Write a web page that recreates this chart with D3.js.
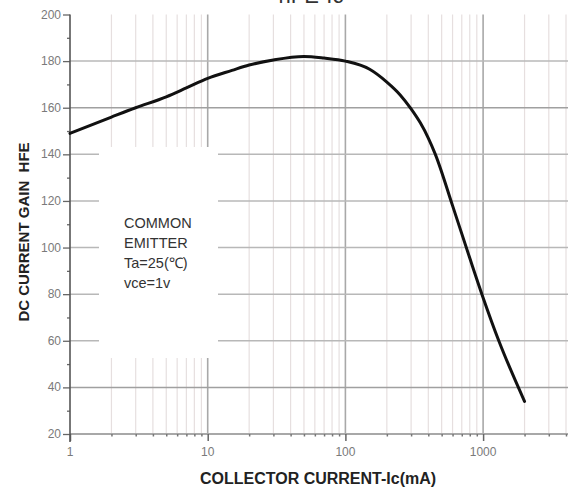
<!DOCTYPE html>
<html>
<head>
<meta charset="utf-8">
<script src="https://cdn.jsdelivr.net/npm/d3@7"></script>
<style>
  html, body { margin: 0; padding: 0; background: #fff; }
  svg { display: block; }
</style>
</head>
<body>
<svg id="chart" width="568" height="490"></svg>
<script>
// ---- data ----
const icValues  = [1, 2, 3, 5, 7, 10, 15, 20, 30, 50, 70, 100, 150, 200, 250, 300, 350, 400, 450, 600, 800, 1000, 1300, 2000];
const hfeValues = [149, 156, 160, 164.7, 168.5, 172.6, 176, 178.3, 180.5, 182, 181.3, 180, 176.5, 171, 165.5, 159.5, 153.5, 147, 140, 118, 95.5, 78.5, 60, 34];
const xTickLabels = [1, 10, 100, 1000];
const yTickLabels = [20, 40, 60, 80, 100, 120, 140, 160, 180, 200];
const noteLines = ["COMMON", "EMITTER", "Ta=25(\u2103)", "vce=1v"];
const titleText = "hFE-Ic";
const xTitle = "COLLECTOR CURRENT-Ic(mA)";
const yTitle = "DC CURRENT GAIN  HFE";

(function () {
const svg = d3.select("#chart");
const mLeft = 70, mTop = 14.5, mBottom = 434;
const decade = 137.7;
const font = "Liberation Sans, Arial, sans-serif";

const x = d3.scaleLog().domain([1, 4500]).range([mLeft, mLeft + decade * Math.log10(4500)]);
const y = d3.scaleLinear().domain([20, 200]).range([mBottom, mTop]);

// minor positions
const allX = [];
for (let d = 1; d <= 1000; d *= 10) for (let k = 1; k <= 9; k++) { const v = d * k; if (v <= 4500) allX.push(v); }

// vertical grid
const g = svg.append("g");
g.selectAll("line.vg").data(allX.filter(v => v > 1)).join("line")
  .attr("x1", d => x(d)).attr("x2", d => x(d))
  .attr("y1", mTop).attr("y2", mBottom)
  .attr("stroke", d => xTickLabels.includes(d) ? "#a8a8a8" : "#e6dfdf")
  .attr("stroke-width", d => xTickLabels.includes(d) ? 1.6 : 1.2);

// horizontal grid
g.selectAll("line.hg").data(yTickLabels.filter(v => v > 20 && v < 200)).join("line")
  .attr("x1", mLeft).attr("x2", 568)
  .attr("y1", d => y(d)).attr("y2", d => y(d))
  .attr("stroke", d => (d === 160 || d === 40) ? "#a0a0a0" : "#b8b8b8")
  .attr("stroke-width", 1.5);

// white note box
svg.append("rect").attr("x", 99).attr("y", 147).attr("width", 119).attr("height", 211).attr("fill", "#fff");

// x axis (bottom line)
svg.append("line").attr("x1", mLeft).attr("x2", 568).attr("y1", mBottom).attr("y2", mBottom)
  .attr("stroke", "#a8a8a8").attr("stroke-width", 2);
const xAxis = d3.axisBottom(x).tickValues(allX).tickSize(0).tickFormat("");
const xa = svg.append("g").attr("transform", `translate(0,${mBottom})`).call(xAxis);
xa.select(".domain").remove();
xa.selectAll(".tick").append("line")
  .attr("y1", 0).attr("y2", d => xTickLabels.includes(d) ? 7 : 2.5)
  .attr("stroke", d => xTickLabels.includes(d) ? "#666" : "#777").attr("stroke-width", 1.5);
svg.selectAll("text.xl").data(xTickLabels).join("text")
  .attr("x", d => x(d)).attr("y", 455.5)
  .attr("text-anchor", "middle")
  .attr("font-family", font).attr("font-size", 12)
  .attr("fill", "#7a7a7a").text(d => d);

// y axis
const yAxis = d3.axisLeft(y).tickValues(d3.range(20, 201, 10)).tickSize(0).tickFormat("");
const ya = svg.append("g").attr("transform", `translate(${mLeft},0)`).call(yAxis);
ya.select(".domain").remove();
ya.selectAll(".tick").append("line")
  .attr("x1", 0).attr("x2", d => d % 20 === 0 ? -7 : -3)
  .attr("stroke", "#666").attr("stroke-width", 1.3);
svg.append("line").attr("x1", mLeft).attr("x2", mLeft).attr("y1", mTop).attr("y2", mBottom + 8)
  .attr("stroke", "#555").attr("stroke-width", 1.6);
svg.selectAll("text.yl").data(yTickLabels).join("text")
  .attr("x", 61).attr("y", d => y(d) + 4)
  .attr("text-anchor", "end")
  .attr("font-family", font).attr("font-size", 12)
  .attr("fill", "#7a7a7a").text(d => d);

// curve
const line = d3.line().x(d => x(d[0])).y(d => y(d[1])).curve(d3.curveMonotoneX);
svg.append("path").datum(icValues.map((v, i) => [v, hfeValues[i]]))
  .attr("d", line).attr("fill", "none").attr("stroke", "#111").attr("stroke-width", 3)
  .attr("stroke-linejoin", "round").attr("stroke-linecap", "round");

// note text
svg.selectAll("text.note").data(noteLines).join("text")
  .attr("x", 124).attr("y", (d, i) => 228 + i * 20)
  .attr("font-family", font).attr("font-size", 14.5)
  .attr("fill", "#333").text(d => d);

// titles
svg.append("text").attr("x", 318).attr("y", 484).attr("text-anchor", "middle")
  .attr("font-family", font).attr("font-weight", "bold")
  .attr("font-size", 16).attr("fill", "#222").text(xTitle);
svg.append("text").attr("transform", "translate(29,232) rotate(-90)").attr("text-anchor", "middle")
  .attr("font-family", font).attr("font-weight", "bold")
  .style("white-space", "pre")
  .attr("font-size", 15).attr("fill", "#222").text(yTitle);
svg.append("text").attr("x", 311).attr("y", 3).attr("text-anchor", "middle")
  .attr("font-family", font)
  .attr("font-size", 22).attr("fill", "#333").text(titleText);
})();
</script>
</body>
</html>
